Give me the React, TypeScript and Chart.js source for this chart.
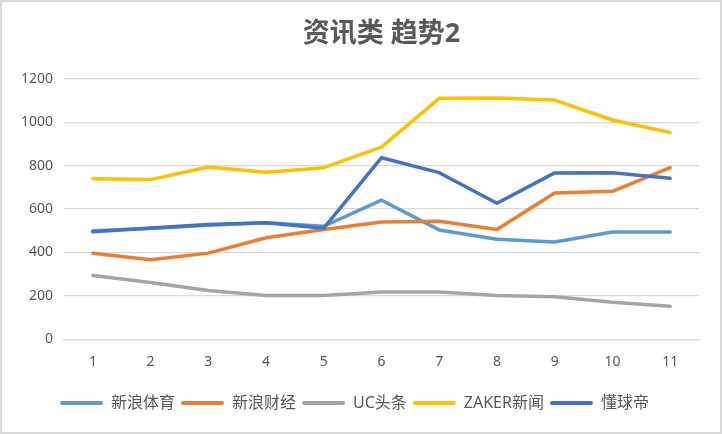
import React, { useEffect, useRef } from "react";
import { Chart, registerables } from "chart.js";

Chart.register(...registerables);

const categories = ["1", "2", "3", "4", "5", "6", "7", "8", "9", "10", "11"];
const seriesNames = ["新浪体育", "新浪财经", "UC头条", "ZAKER新闻", "懂球帝"];
const sinaSports = [500, 510, 525, 537, 521, 641, 504, 461, 448, 494, 494];
const sinaFinance = [396, 366, 397, 468, 506, 541, 544, 506, 674, 682, 791];
const ucHeadlines = [294, 262, 225, 202, 202, 218, 218, 201, 196, 170, 152];
const zakerNews = [740, 736, 794, 770, 791, 886, 1111, 1112, 1103, 1011, 953];
const dongqiudi = [495, 513, 529, 537, 512, 837, 768, 627, 767, 768, 742];
const seriesColors = ["#5B9BD5", "#ED7D31", "#A5A5A5", "#FFC000", "#4472C4"];
const yTicks = [0, 200, 400, 600, 800, 1000, 1200];

const FONT = '"Noto Sans", "Noto Sans CJK SC", sans-serif';
const TEXT = "#595959";
const GRID = "#d9d9d9";

const App: React.FC = () => {
	const canvasRef = useRef<HTMLCanvasElement | null>(null);

	useEffect(() => {
		if (!canvasRef.current) return;
		const ctx = canvasRef.current.getContext("2d");
		if (!ctx) return;
		const values = [sinaSports, sinaFinance, ucHeadlines, zakerNews, dongqiudi];
		const chart = new Chart(ctx, {
			type: "line",
			data: {
				labels: categories,
				datasets: values.map((data, i) => ({
					label: seriesNames[i],
					data,
					borderColor: seriesColors[i],
					backgroundColor: seriesColors[i],
					borderWidth: 3.5,
					borderCapStyle: "round",
					borderJoinStyle: "round",
					pointRadius: 0,
					tension: 0,
					order: values.length - i,
				})),
			},
			options: {
				animation: false,
				responsive: true,
				maintainAspectRatio: false,
				layout: { padding: { left: 8, right: 21, top: 0, bottom: 11 } },
				plugins: {
					title: {
						display: true,
						fullSize: false,
						text: "资讯类 趋势2",
						color: TEXT,
						font: { family: FONT, size: 27, weight: "bold" },
						padding: { top: 16, bottom: 28.6 },
					},
					legend: {
						position: "bottom",
						labels: {
							color: TEXT,
							font: { family: FONT, size: 16 },
							boxWidth: 43,
							boxHeight: 4,
							padding: 6,
							sort: (a, b) => (a.datasetIndex ?? 0) - (b.datasetIndex ?? 0),
							generateLabels: (c) =>
								Chart.defaults.plugins.legend.labels.generateLabels(c).map((l) => ({
									...l,
									fillStyle: l.strokeStyle,
									lineWidth: 0,
									borderRadius: 2,
								})),
						},
					},
					tooltip: { enabled: false },
				},
				scales: {
					x: {
						offset: true,
						grid: { display: false, drawTicks: false },
						border: { display: true, color: GRID, width: 1.3 },
						ticks: { color: TEXT, font: { family: FONT, size: 14 }, padding: 14 },
						afterFit: (scale) => {
							scale.height += 5;
						},
					},
					y: {
						min: 0,
						max: 1200,
						afterBuildTicks: (scale) => {
							scale.ticks = yTicks.map((v) => ({ value: v }));
						},
						grid: { color: GRID, lineWidth: 1.3, drawTicks: false },
						border: { display: false },
						ticks: {
							color: TEXT,
							font: { family: FONT, size: 14 },
							padding: 11,
							callback: (v) => String(v),
						},
					},
				},
			},
		});
		return () => {
			chart.destroy();
		};
	}, []);

	return (
		<div
			style={{
				position: "absolute",
				left: 0,
				top: 0,
				width: 722,
				height: 434,
				boxSizing: "border-box",
				border: "2px solid #d9d9d9",
				background: "#fff",
			}}
		>
			<div style={{ position: "relative", width: "100%", height: "100%" }}>
				<canvas ref={(ref) => (canvasRef.current = ref)} />
			</div>
		</div>
	);
};

export default App;
